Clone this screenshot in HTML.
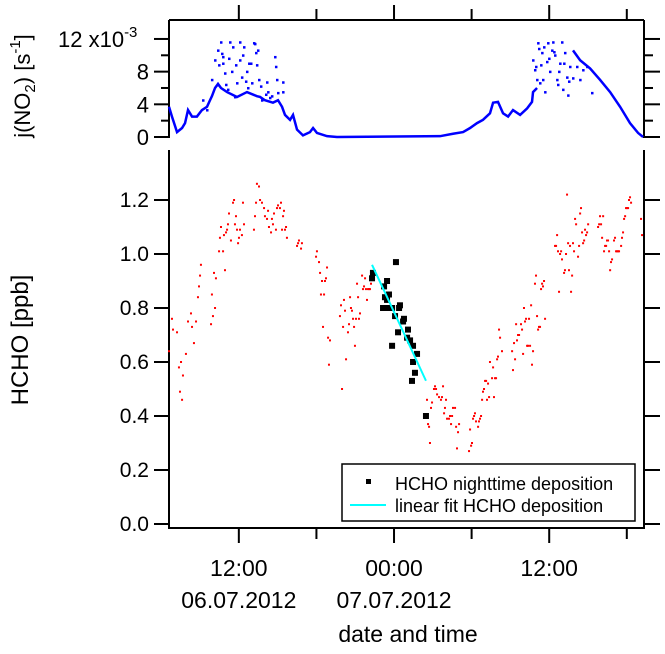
<!DOCTYPE html>
<html><head><meta charset="utf-8"><style>
body{margin:0;background:#fff}
svg text{font-family:"Liberation Sans",Arial,sans-serif;fill:#000}
</style></head><body>
<svg id="c" width="665" height="649" viewBox="0 0 665 649" xmlns="http://www.w3.org/2000/svg">
<g id="axes"></g><g id="marks"></g>
</svg>
<script>
const redTimes=[-17.40,-17.17,-17.09,-16.78,-16.63,-16.55,-16.39,-16.47,-16.32,-16.09,-15.93,-15.70,-15.62,-15.47,-15.31,-15.16,-15.08,-15.00,-14.93,-14.15,-14.08,-14.00,-13.92,-13.84,-13.77,-13.53,-13.46,-13.38,-13.22,-13.15,-13.07,-12.99,-12.91,-12.84,-12.76,-12.61,-12.45,-12.37,-12.30,-12.22,-12.14,-12.06,-11.99,-11.91,-11.76,-11.68,-11.60,-10.83,-10.75,-10.67,-10.60,-10.44,-10.36,-10.21,-10.05,-9.98,-9.82,-9.74,-9.67,-9.51,-9.44,-9.36,-9.28,-9.13,-9.05,-8.97,-8.82,-8.74,-8.66,-8.58,-8.51,-8.43,-8.35,-8.28,-7.50,-7.42,-7.35,-7.19,-7.12,-6.03,-5.96,-5.80,-5.72,-5.65,-5.57,-5.49,-5.41,-5.34,-5.26,-5.18,-5.10,-5.03,-4.95,-4.18,-4.10,-4.02,-3.94,-3.87,-3.79,-3.71,-3.56,-3.48,-3.40,-3.33,-3.25,-3.17,-3.09,-3.02,-2.94,-2.86,-2.78,-2.71,-2.63,-2.47,-2.40,-2.32,-2.24,-2.17,-2.09,-2.01,-1.93,-1.86,-1.78,
2.55,2.63,2.71,2.78,2.86,2.94,3.09,3.17,3.25,3.33,3.48,3.63,3.71,3.79,3.87,3.94,4.02,4.10,4.25,4.33,4.41,4.49,4.56,4.72,4.80,4.87,4.95,5.03,5.80,5.88,5.96,6.03,6.11,6.19,6.26,6.34,6.50,6.57,6.65,6.73,6.81,6.88,6.96,7.04,7.12,7.19,7.27,7.35,7.42,7.58,7.66,7.73,7.81,7.89,7.97,8.04,8.12,8.20,8.35,9.13,9.20,9.28,9.36,9.44,9.51,9.59,9.67,9.82,9.90,9.98,10.05,10.13,10.21,10.29,10.36,10.44,10.52,10.60,10.67,10.75,10.90,10.98,11.06,11.14,11.21,11.29,11.37,11.45,11.52,11.60,11.68,12.45,12.53,12.61,12.68,12.76,12.84,12.92,12.99,13.15,13.22,13.30,13.38,13.46,13.53,13.61,13.69,13.77,13.84,13.92,14.00,14.08,14.23,14.31,14.39,14.46,14.54,14.62,14.70,14.77,14.85,14.93,15.01,15.78,15.86,15.93,16.01,16.09,16.17,16.24,16.32,16.40,16.47,16.55,16.63,16.71,16.78,16.86,17.01,17.09,17.17,17.24,17.32,17.40,17.56,17.63,17.71,17.79,17.87,17.94,18.02,18.10,18.17,18.25,18.33,19.10,19.18];
const redValues=[0.64,0.76,0.72,0.71,0.58,0.49,0.46,0.60,0.55,0.63,0.75,0.78,0.73,0.67,0.75,0.84,0.88,0.92,0.96,0.74,0.85,0.77,0.93,0.80,0.91,1.01,1.06,1.10,1.01,1.07,0.94,1.08,1.09,1.11,1.15,1.05,1.19,1.20,1.11,1.14,1.09,1.04,1.06,1.09,1.07,1.19,1.11,1.09,1.14,1.19,1.26,1.25,1.20,1.19,1.17,1.14,1.13,1.16,1.10,1.08,1.13,1.11,1.15,1.09,1.17,1.18,1.17,1.19,1.09,1.14,1.16,1.09,1.10,1.06,1.03,1.04,1.05,1.02,1.04,0.99,1.01,0.97,0.93,0.85,0.90,0.73,0.85,0.90,0.91,0.95,0.69,0.59,0.68,0.77,0.81,0.50,0.73,0.83,0.79,0.61,0.71,0.74,0.84,0.80,0.79,0.76,0.73,0.66,0.76,0.89,0.84,0.76,0.78,0.92,0.87,0.88,0.91,0.87,0.83,0.87,0.87,0.87,0.89,
0.46,0.37,0.36,0.30,0.43,0.45,0.50,0.51,0.50,0.48,0.47,0.46,0.47,0.51,0.41,0.43,0.46,0.39,0.39,0.40,0.37,0.40,0.43,0.43,0.36,0.28,0.34,0.37,0.27,0.35,0.29,0.30,0.39,0.40,0.41,0.38,0.36,0.38,0.39,0.40,0.46,0.49,0.50,0.53,0.53,0.46,0.52,0.47,0.60,0.54,0.58,0.47,0.54,0.54,0.61,0.62,0.72,0.69,0.64,0.64,0.57,0.67,0.61,0.74,0.68,0.70,0.70,0.74,0.72,0.63,0.80,0.75,0.76,0.66,0.66,0.76,0.66,0.81,0.59,0.64,0.89,0.92,0.77,0.72,0.73,0.73,0.87,0.89,0.88,0.90,0.76,1.03,1.03,1.07,1.01,0.86,1.00,1.01,0.98,0.93,0.94,1.00,1.22,1.04,0.94,1.03,0.86,0.92,1.04,1.01,1.13,1.11,0.99,1.03,1.15,1.17,1.08,1.04,1.05,1.09,1.07,1.08,1.11,1.10,1.11,1.14,1.11,1.06,1.14,1.01,1.03,1.03,1.05,1.05,1.01,0.94,0.97,0.98,1.05,1.06,1.01,1.01,1.01,1.01,1.03,1.06,1.08,1.13,1.14,1.17,1.17,1.17,1.20,1.21,1.19,1.13,1.07];
const nightTimes=[-1.70,-1.63,0.15,-0.54,-0.77,-0.39,-0.70,-0.54,-0.85,-0.46,-0.15,0.46,0.39,0.08,0.77,0.70,0.31,1.08,1.01,1.24,-0.15,1.47,1.47,1.62,1.39,1.78,2.47];
const nightValues=[0.91,0.93,0.97,0.90,0.88,0.85,0.84,0.83,0.80,0.80,0.80,0.81,0.80,0.77,0.76,0.75,0.71,0.72,0.69,0.68,0.66,0.66,0.60,0.56,0.53,0.63,0.40];
const fitRange=[-1.70,2.47];
const fitSlope=-0.103, fitIntercept=0.785;
const jTimes=[-17.40,-17.17,-16.78,-16.39,-16.16,-15.93,-15.62,-15.24,-14.85,-14.46,-14.23,-14.08,-13.84,-13.61,-13.38,-12.91,-12.14,-11.37,-10.60,-10.36,-9.98,-9.36,-8.97,-8.66,-8.43,-8.04,-7.81,-7.50,-7.04,-6.50,-6.26,-5.96,-5.18,-4.41,3.56,4.56,5.34,5.88,6.42,6.88,7.42,7.66,8.04,8.43,8.82,9.20,9.75,10.29,10.67,10.75,11.06];
const jValues=[3.7,2.5,0.6,1.1,1.7,3.3,2.5,2.5,3.3,3.7,4.5,5.0,6.0,6.5,6.0,5.5,4.9,5.5,5.0,4.9,4.5,4.2,4.5,3.7,2.7,2.1,2.7,0.9,0.2,0.6,1.1,0.5,0.1,0,0.1,0.4,0.6,1.1,1.7,2.1,2.9,4.2,4.3,2.9,2.5,3.3,2.7,3.5,4.3,5.5,6.0];
const jTimes2=[13.84,14.39,15.16,15.93,16.71,17.48,18.25,18.87,19.26];
const jValues2=[10.6,9.4,8.4,7.0,5.5,3.7,1.7,0.5,0];
const jScatterTimes=[-13.38,-13.22,-13.22,-12.99,-12.84,-12.68,-12.53,-12.45,-12.30,-12.14,-11.91,-11.91,-11.76,-11.60,-11.37,-11.29,-11.21,-10.98,-10.83,-10.67,-10.60,-10.52,-10.44,-10.21,-9.82,-9.74,-9.59,-9.20,-9.13,-9.05,-8.97,-8.58,-8.58,-14.77,-14.46,-14.08,-13.84,-13.61,-13.53,-13.30,-13.07,-12.76,-12.22,-11.68,-11.45,-11.06,-10.75,-10.29,-9.90,-9.44,
10.75,10.90,11.06,11.14,11.45,11.52,11.68,11.83,11.91,12.06,12.22,12.30,12.45,12.61,12.68,12.84,12.99,13.07,13.22,13.38,13.46,13.61,13.84,14.15,14.39,14.62,14.93,15.31,11.21,11.37,11.60,11.99,12.38,12.76,13.15,13.53,10.98,11.29];
const jScatterValues=[11.6,9.8,9.0,6.4,5.8,11.6,8.0,11.0,4.9,6.6,11.6,9.4,7.3,11.0,8.0,6.0,9.0,6.6,11.5,10.3,8.8,10.6,7.0,4.5,6.7,5.5,4.8,9.8,8.6,7.0,5.4,6.7,5.5,4.5,3.3,7.0,9.4,10.6,8.8,10.2,7.8,9.6,8.8,10.0,6.8,9.0,11.4,6.2,5.2,5.0,
9.4,8.2,7.0,11.5,10.3,7.0,5.5,9.2,11.5,8.0,10.6,11.6,10.0,7.0,6.4,9.0,11.6,5.8,10.3,7.3,5.1,8.6,7.2,8.6,7.0,8.2,8.6,5.4,10.8,8.8,11.0,9.6,10.4,8.0,9.0,6.8,8.6,6.6];
const xTickHours=[-12,-6,0,6,12,18];
const xTickLabels=["12:00","","00:00","","12:00",""];
const xDateLabels=["06.07.2012","","07.07.2012","","",""];
const yTicks=[0,0.2,0.4,0.6,0.8,1.0,1.2];
const yTickLabels=["0.0","0.2","0.4","0.6","0.8","1.0","1.2"];
const jTicks=[0,2,4,6,8,10,12];
const jTickLabels=["0","","4","","8","","12"];

const NS="http://www.w3.org/2000/svg";
const X0=169,X1=644,HMIN=-17.4,HMAX=19.33;
const xs=h=>X0+(h-HMIN)/(HMAX-HMIN)*(X1-X0);
const ys=v=>524-v*270;
const yj=v=>137-v*8.17;
const A=document.getElementById('axes'),M=document.getElementById('marks');
function mk(tag,at,p){const e=document.createElementNS(NS,tag);for(const k in at)e.setAttribute(k,at[k]);(p||A).appendChild(e);return e;}
function ln(x1,y1,x2,y2,w){return mk('line',{x1,y1,x2,y2,stroke:'#000','stroke-width':w||2});}
let e;
e=ln(X0,20,X1,20);
e=ln(X0,20,X0,138);
e=ln(X1,20,X1,138);
e=ln(X0,150,X0,529);
e=ln(X1,150,X1,529);
e=ln(X0-1,528,X1+1,528);
xTickHours.forEach((h,i)=>{const x=xs(h);const major=xTickLabels[i]!=='';
 ln(x,20,x,major?5:9);ln(x,528,x,major?543:539);
 if(xTickLabels[i]){const t=mk('text',{x,y:576,'text-anchor':'middle','font-size':23});t.textContent=xTickLabels[i];
 }
 if(xDateLabels[i]){const t=mk('text',{x,y:608,'text-anchor':'middle','font-size':23});t.textContent=xDateLabels[i];
 }
});
yTicks.forEach((v,i)=>{const y=ys(v);ln(X0-15,y,X0,y);ln(X1,y,X1+16,y);
 const t=mk('text',{x:149,y:y+7,'text-anchor':'end','font-size':21});t.textContent=yTickLabels[i];
 });
jTicks.forEach((v,i)=>{const y=yj(v);const major=jTickLabels[i]!=='';ln(major?X0-15:X0-8,y,X0,y);ln(X1,y,major?X1+16:X1+9,y);
 if(major&&v!==12){const t=mk('text',{x:149,y:y+8,'text-anchor':'end','font-size':22});t.textContent=jTickLabels[i];
 }});
e=mk('text',{x:58,y:yj(12)+8,'font-size':22});e.innerHTML='12 x10<tspan dy="-10" font-size="15">-3</tspan>';

e=mk('text',{x:408,y:642,'text-anchor':'middle','font-size':23});e.textContent='date and time';

e=mk('text',{transform:'translate(28,340) rotate(-90)','text-anchor':'middle','font-size':24});e.textContent='HCHO [ppb]';

e=mk('text',{transform:'translate(30,86) rotate(-90)','text-anchor':'middle','font-size':22});
e.innerHTML='j(NO<tspan dy="5" font-size="15">2</tspan><tspan dy="-5">) [s</tspan><tspan dy="-10" font-size="15">-1</tspan><tspan dy="10">]</tspan>';

const pts=a=>a.map(p=>p.join(',')).join(' ');
e=mk('polyline',{points:pts(jTimes.map((h,i)=>[xs(h),yj(jValues[i])])),fill:'none',stroke:'#0000ff','stroke-width':2.5},M);

e=mk('polyline',{points:pts(jTimes2.map((h,i)=>[xs(h),yj(jValues2[i])])),fill:'none',stroke:'#0000ff','stroke-width':2.5},M);

jScatterTimes.forEach((h,i)=>{const r=mk('rect',{x:xs(h)-1,y:yj(jScatterValues[i])-1,width:2.5,height:2.5,fill:'#0000ff'},M);
 });
redTimes.forEach((h,i)=>{const r=mk('rect',{x:xs(h)-1,y:ys(redValues[i])-1,width:2,height:2,fill:'#ff0000'},M);
 });
nightTimes.forEach((h,i)=>{const r=mk('rect',{x:xs(h)-3,y:ys(nightValues[i])-3,width:6,height:6,fill:'#000'},M);
 });
e=mk('line',{x1:xs(fitRange[0]),y1:ys(fitIntercept+fitSlope*fitRange[0]),x2:xs(fitRange[1]),y2:ys(fitIntercept+fitSlope*fitRange[1]),stroke:'#00ffff','stroke-width':2},M);

const L=mk('g',{},M);
mk('rect',{x:342,y:464,width:293,height:57,fill:'#fff',stroke:'#000','stroke-width':1.5},L);
e=mk('rect',{x:366,y:479,width:5,height:5,fill:'#000'},L);
e=mk('text',{x:395,y:490,'font-size':18},L);e.textContent='HCHO nighttime deposition';
e=mk('line',{x1:350,y1:505,x2:386,y2:505,stroke:'#00ffff','stroke-width':2},L);
e=mk('text',{x:395,y:512,'font-size':18},L);e.textContent='linear fit HCHO deposition';
</script>
</body></html>
